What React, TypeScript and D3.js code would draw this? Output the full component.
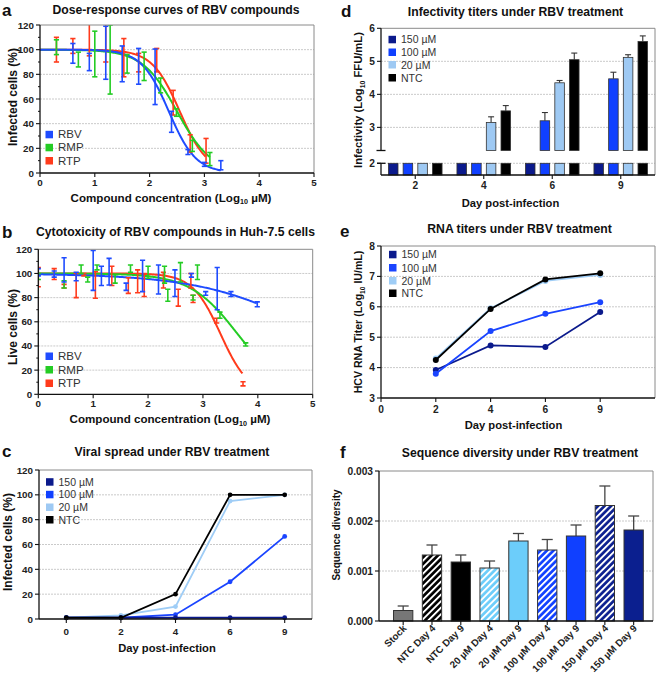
import React from 'react';
import * as d3 from 'd3';

const FONT = '"Liberation Sans", Arial, Helvetica, sans-serif';
const GRID = '#bcbcbc';
const BORDER = '#8a8a8a';

// ---------------- Panel a: dose-response ----------------
const compoundNames = ['RBV', 'RMP', 'RTP'];
const compoundColors = ['#1f4cff', '#24cc24', '#ff3b1c'];

const aRBVx = [0.6, 0.9, 1.2, 1.5, 1.8, 2.1, 2.4, 2.7, 3.0, 3.3];
const aRBVmean = [97, 90, 97.5, 88.5, 86.5, 78, 41.5, 17, 7, 6.3];
const aRBVsd = [8, 7, 21.5, 14.5, 14.5, 22.5, 8.5, 2, 1.6, 3.7];

const aRMPx = [0.3, 0.7, 1.0, 1.28, 1.59, 1.9, 2.2, 2.49, 2.78, 3.1];
const aRMPmean = [102, 92, 96.5, 92, 88.5, 86.5, 71, 49, 22, 11.3];
const aRMPsd = [6, 6, 18.5, 28, 7.5, 11.5, 6, 3, 4.5, 5.3];

const aRTPx = [0.3, 0.6, 0.9, 1.2, 1.53, 1.8, 2.13, 2.43, 2.74, 3.03];
const aRTPmean = [100, 103, 109, 106, 93.5, 89.5, 91.5, 57, 24, 18];
const aRTPsd = [10, 6, 14, 16, 15.5, 7.5, 9.5, 10, 7, 10];

const aFitLogIC50 = [2.35, 2.5, 2.55];
const aFitHill = [1.75, 1.38, 1.73];

// ---------------- Panel b: cytotoxicity ----------------
const bRBVx = [0, 0.29, 0.47, 0.69, 1.0, 1.15, 1.29, 1.6, 1.9, 2.19, 2.49, 2.79, 3.05, 3.26, 3.51, 3.99];
const bRBVmean = [101, 99.5, 103, 97.5, 102.5, 98, 101.5, 89, 98, 95, 92, 98.5, 83.5, 87.5, 83, 74.5];
const bRBVsd = [3, 2.5, 10, 3.5, 16.5, 8, 11, 3, 13, 12, 11, 1.5, 1.5, 17.5, 2, 2];

const bRMPx = [0, 0.47, 0.78, 0.9, 1.07, 1.4, 1.68, 2.0, 2.3, 2.36, 2.59, 2.82, 2.9, 3.31, 3.78];
const bRMPmean = [97.5, 91, 103.5, 95, 105, 95.5, 104, 101, 99, 82, 101, 80, 101, 65.5, 41.3];
const bRMPsd = [2.5, 3, 3.5, 2, 2, 3.5, 3, 5, 7, 5, 8, 2, 6, 2.5, 1.3];

const bRTPx = [0, 0.29, 0.47, 0.69, 0.83, 1.04, 1.34, 1.64, 1.81, 1.93, 2.28, 2.55, 2.78, 2.82, 3.25, 3.73];
const bRTPmean = [97, 99.5, 89.5, 90, 99, 90.5, 98, 90, 93.5, 90.5, 94.5, 80, 94, 79, 61, 8.7];
const bRTPsd = [8, 4.5, 1.5, 10, 1, 11, 8, 6.5, 9.5, 9.5, 6.5, 7, 6, 3, 2, 1.7];

const bFitLogCC50 = [5.13, 3.63, 3.32];
const bFitHill = [0.42, 1.0, 1.7];

// ---------------- Shared treatment groups ----------------
const treatNames = ['150 µM', '100 µM', '20 µM', 'NTC'];
const treatColors = ['#0b1a8c', '#1040ff', '#9ec9f3', '#000000'];
const treatLineColors = ['#0b1a8c', '#1a44ff', '#9fcdf6', '#000000'];

// ---------------- Panel c: viral spread ----------------
const cDays = ['0', '2', '4', '6', '9'];
const c150 = [1, 1, 1, 1, 1];
const c100 = [1, 1, 3.5, 30, 66.5];
const c20 = [1, 3, 10, 95, 100];
const cNTC = [1, 1, 20, 100, 100];

// ---------------- Panel d: infectivity ----------------
const dDays = ['2', '4', '6', '9'];
const d150 = [2, 2, 2, 2];
const d100 = [2, 2, 3.2, 4.47];
const d20 = [2, 3.15, 4.35, 5.12];
const dNTC = [2, 3.5, 5.05, 5.6];
const d150err = [0, 0, 0, 0];
const d100err = [0, 0, 0.25, 0.2];
const d20err = [0, 0.17, 0.07, 0.08];
const dNTCerr = [0, 0.16, 0.2, 0.17];
const dUpperTicks = [3, 4, 5, 6];
const dLowerTicks = [2];

// ---------------- Panel e: RNA titers ----------------
const eTickLabels = ['0', '2', '4', '6', '9'];
const eDayIndex = [1, 2, 3, 4];
const e150 = [3.92, 4.73, 4.68, 5.83];
const e100 = [3.8, 5.2, 5.77, 6.15];
const e20 = [4.3, 5.95, 6.85, 7.05];
const eNTC = [4.25, 5.93, 6.9, 7.1];

// ---------------- Panel f: sequence diversity ----------------
const fLabels = ['Stock', 'NTC Day 4', 'NTC Day 9', '20 µM Day 4', '20 µM Day 9', '100 µM Day 4', '100 µM Day 9', '150 µM Day 4', '150 µM Day 9'];
const fValues = [0.00021, 0.00132, 0.00118, 0.00106, 0.0016, 0.00142, 0.0017, 0.00231, 0.00182];
const fErr = [0.00009, 0.0002, 0.00014, 0.00014, 0.00015, 0.00021, 0.00022, 0.00039, 0.00028];
const fColors = ['#777777', '#000000', '#000000', '#6ccdfa', '#6ccdfa', '#1040ff', '#1040ff', '#0b1f8f', '#0b1f8f'];
const fHatched = [false, true, false, true, false, true, false, true, false];
const fTicks = [0, 0.001, 0.002, 0.003];

// ======================================================
type Pt = { x: number; m: number; s: number };
const zip = (xs: number[], ms: number[], ss: number[]): Pt[] => xs.map((x, i) => ({ x, m: ms[i], s: ss[i] }));

const Txt = (p: any) => <text fontFamily={FONT} {...p} />;

function Frame({ x0, x1, y0, y1 }: any) {
  return (
    <g>
      <line x1={x0} x2={x1} y1={y0} y2={y0} stroke={BORDER} strokeWidth={1} />
      <line x1={x1} x2={x1} y1={y0} y2={y1} stroke={BORDER} strokeWidth={1} />
      <line x1={x0} x2={x1} y1={y1} y2={y1} stroke="#111" strokeWidth={1.3} />
      <line x1={x0} x2={x0} y1={y0} y2={y1} stroke="#111" strokeWidth={1.3} />
    </g>
  );
}

function Grid({ y, vals, x0, x1 }: any) {
  return (
    <g>
      {vals.map((v: number) => (
        <line key={v} x1={x0} x2={x1} y1={y(v)} y2={y(v)} stroke={GRID} strokeWidth={0.8} strokeDasharray="2,1" />
      ))}
    </g>
  );
}

function YTicks({ y, vals, x, fmt, fs = 9.8, minor }: any) {
  return (
    <g>
      {vals.map((v: number) => (
        <g key={v}>
          <line x1={x - 4} x2={x} y1={y(v)} y2={y(v)} stroke="#111" strokeWidth={1.1} />
          <Txt x={x - 6} y={y(v) + fs * 0.36} fontSize={fs} fontWeight="bold" textAnchor="end" fill="#222">
            {fmt ? fmt(v) : v}
          </Txt>
        </g>
      ))}
      {(minor || []).map((v: number) => (
        <line key={'m' + v} x1={x - 2} x2={x} y1={y(v)} y2={y(v)} stroke="#111" strokeWidth={1} />
      ))}
    </g>
  );
}

function XTicks({ pos, labels, y, base, fs = 9.8, len = 4 }: any) {
  return (
    <g>
      {pos.map((p: number, i: number) => (
        <g key={i}>
          <line x1={p} x2={p} y1={y} y2={y + len} stroke="#111" strokeWidth={1.1} />
          <Txt x={p} y={base} fontSize={fs} fontWeight="bold" textAnchor="middle" fill="#222">
            {labels[i]}
          </Txt>
        </g>
      ))}
    </g>
  );
}

function Legend({ names, colors, x, bases, fs = 11, sq = 7.5 }: any) {
  return (
    <g>
      {names.map((n: string, i: number) => (
        <g key={n}>
          <rect x={x} y={bases[i] - sq} width={sq} height={sq} fill={colors[i]} />
          <Txt x={x + sq + 5} y={bases[i]} fontSize={fs} fill="#333">
            {n}
          </Txt>
        </g>
      ))}
    </g>
  );
}

function Label({ x, y, t }: any) {
  return (
    <Txt x={x} y={y} fontSize={17} fontWeight="bold" fill="#111">
      {t}
    </Txt>
  );
}

function Title({ x, y, t }: any) {
  return (
    <Txt x={x} y={y} fontSize={12.2} fontWeight="bold" textAnchor="middle" fill="#111">
      {t}
    </Txt>
  );
}

function LogLabel({ x, y, pre, post, rotate, fs = 11 }: any) {
  const tr = rotate ? `rotate(-90 ${x} ${y})` : undefined;
  return (
    <Txt x={x} y={y} fontSize={fs} fontWeight="bold" textAnchor="middle" fill="#111" transform={tr}>
      {pre}
      {post !== undefined ? (
        <>
          <tspan fontSize={fs * 0.62} dy={fs * 0.25}>10</tspan>
          <tspan dy={-fs * 0.25}>{post}</tspan>
        </>
      ) : null}
    </Txt>
  );
}

function ErrBars({ pts, x, y, color, cap = 2.6 }: any) {
  return (
    <g>
      {pts.map((p: Pt, i: number) => {
        const cx = x(p.x);
        const yt = y(p.m + p.s);
        const yb = y(p.m - p.s);
        return (
          <g key={i} stroke={color} strokeWidth={1.6}>
            <line x1={cx} x2={cx} y1={yt} y2={yb} />
            <line x1={cx - cap} x2={cx + cap} y1={yt} y2={yt} />
            <line x1={cx - cap} x2={cx + cap} y1={yb} y2={yb} />
          </g>
        );
      })}
    </g>
  );
}

function DosePanel({ id, xr, yr, series, ic50, hill, legendBases }: any) {
  const x = d3.scaleLinear().domain([0, 5]).range(xr);
  const y = d3.scaleLinear().domain([0, 120]).range(yr);
  const line = d3.line<number[]>().x((d) => x(d[0])).y((d) => y(d[1]));
  const curves = series.map((s: Pt[], k: number) => {
    const xmax = d3.max(s, (p) => p.x) as number;
    const xs = d3.range(0, xmax + 0.001, 0.02);
    return xs.map((v) => [v, 100 / (1 + Math.pow(10, (v - ic50[k]) * hill[k]))]);
  });
  return (
    <g>
      <defs>
        <clipPath id={id}>
          <rect x={xr[0]} y={yr[1]} width={xr[1] - xr[0]} height={yr[0] - yr[1]} />
        </clipPath>
      </defs>
      <Grid y={y} vals={[20, 40, 60, 80, 100]} x0={xr[0]} x1={xr[1]} />
      <g clipPath={`url(#${id})`}>
        {[2, 1, 0].map((k) => (
          <path key={k} d={line(curves[k]) as string} fill="none" stroke={compoundColors[k]} strokeWidth={2} />
        ))}
        {[2, 1, 0].map((k) => (
          <ErrBars key={k} pts={series[k]} x={x} y={y} color={compoundColors[k]} />
        ))}
      </g>
      <Frame x0={xr[0]} x1={xr[1]} y0={yr[1]} y1={yr[0]} />
      <YTicks y={y} x={xr[0]} vals={[0, 20, 40, 60, 80, 100, 120]} minor={[10, 30, 50, 70, 90, 110]} />
      <XTicks pos={[0, 1, 2, 3, 4, 5].map(x)} labels={['0', '1', '2', '3', '4', '5']} y={yr[0]} base={yr[0] + 13} />
      <Legend names={compoundNames} colors={compoundColors} x={45.5} bases={legendBases} fs={11.5} />
    </g>
  );
}

function App() {
  // ---------- Panel c ----------
  const cx = d3.scalePoint<string>().domain(cDays).range([39, 312]).padding(0.5);
  const cy = d3.scaleLinear().domain([0, 120]).range([619, 470]);
  const cSeries = [c150, c100, c20, cNTC];
  const cLine = d3.line<number>().x((_, i) => cx(cDays[i]) as number).y((d) => cy(d));

  // ---------- Panel d ----------
  const dX0 = d3.scaleBand<string>().domain(dDays).range([381, 655]).padding(0);
  const dInner = d3.scaleBand<string>().domain(treatNames).range([0, 58]).paddingInner(0.35).paddingOuter(0.15);
  const dYu = d3.scaleLinear().domain([2.3, 6]).range([150.5, 28.3]);
  const dYl = d3.scaleLinear().domain([1.645, 2]).range([175, 163.3]);
  const dSeries = [d150, d100, d20, dNTC];
  const dErrs = [d150err, d100err, d20err, dNTCerr];

  // ---------- Panel e ----------
  const ex = d3.scaleLinear().domain([0, 5]).range([381, 655]);
  const ey = d3.scaleLinear().domain([3, 8]).range([398, 246]);
  const eSeries = [e150, e100, e20, eNTC];
  const eLine = d3.line<number>().x((_, i) => ex(eDayIndex[i])).y((d) => ey(d));

  // ---------- Panel f ----------
  const fx = d3.scaleBand<string>().domain(fLabels).range([379, 653]).paddingInner(0.33).paddingOuter(0.42).align(0.6);
  const fy = d3.scaleLinear().domain([0, 0.003]).range([621, 471]);
  const patId = (c: string) => 'hatch' + c.replace('#', '');

  return (
    <svg width={660} height={678} style={{ position: 'absolute', left: 0, top: 0, background: '#fff' }}>
      <defs>
        {Array.from(new Set(fColors)).map((c) => (
          <pattern key={c} id={patId(c)} patternUnits="userSpaceOnUse" width={4.6} height={4.6} patternTransform="rotate(45)">
            <rect width={4.6} height={4.6} fill={c} />
            <rect x={0} y={0} width={1.9} height={4.6} fill="#fff" />
          </pattern>
        ))}
      </defs>
      <rect width={660} height={678} fill="#fff" />

      {/* ========== a ========== */}
      <Label x={2} y={16} t="a" />
      <Title x={176} y={13.5} t="Dose-response curves of RBV compounds" />
      <DosePanel
        id="clipA"
        xr={[40, 314]}
        yr={[173, 25]}
        series={[zip(aRBVx, aRBVmean, aRBVsd), zip(aRMPx, aRMPmean, aRMPsd), zip(aRTPx, aRTPmean, aRTPsd)]}
        ic50={aFitLogIC50}
        hill={aFitHill}
        legendBases={[138.3, 151.3, 164.5]}
      />
      <LogLabel x={171} y={201.5} pre="Compound concentration (Log" post=" µM)" fs={11.6} />
      <LogLabel x={16.5} y={97} pre="Infected cells (%)" rotate fs={12} />

      {/* ========== b ========== */}
      <Label x={2} y={238.3} t="b" />
      <Title x={175.5} y={236} t="Cytotoxicity of RBV compounds in Huh-7.5 cells" />
      <DosePanel
        id="clipB"
        xr={[38.3, 312.7]}
        yr={[394.3, 249.3]}
        series={[zip(bRBVx, bRBVmean, bRBVsd), zip(bRMPx, bRMPmean, bRMPsd), zip(bRTPx, bRTPmean, bRTPsd)]}
        ic50={bFitLogCC50}
        hill={bFitHill}
        legendBases={[360, 373.5, 387]}
      />
      <LogLabel x={170} y={423} pre="Compound concentration (Log" post=" µM)" fs={11.6} />
      <LogLabel x={16.5} y={327} pre="Live cells (%)" rotate fs={12} />

      {/* ========== c ========== */}
      <Label x={2} y={456.7} t="c" />
      <Title x={172} y={456} t="Viral spread under RBV treatment" />
      <Grid y={cy} vals={[20, 40, 60, 80, 100]} x0={39} x1={312} />
      {[2, 1, 0, 3].map((k) => (
        <g key={k}>
          <path d={cLine(cSeries[k]) as string} fill="none" stroke={treatLineColors[k]} strokeWidth={1.8} />
          {cSeries[k].map((v, i) => (
            <circle key={i} cx={cx(cDays[i]) as number} cy={cy(v)} r={2.4} fill={treatLineColors[k]} />
          ))}
        </g>
      ))}
      <Frame x0={39} x1={312} y0={470} y1={619} />
      <YTicks y={cy} x={39} vals={[0, 20, 40, 60, 80, 100, 120]} />
      <XTicks pos={cDays.map((d) => cx(d) as number)} labels={cDays} y={619} base={635} />
      <Legend names={treatNames} colors={treatColors} x={46} bases={[485.7, 498.3, 511, 523.5]} fs={10.5} />
      <LogLabel x={167} y={652} pre="Day post-infection" fs={11.2} />
      <LogLabel x={11.5} y={542} pre="Infected cells (%)" rotate fs={12} />

      {/* ========== d ========== */}
      <Label x={341} y={16.7} t="d" />
      <Title x={515.5} y={16} t="Infectivity titers under RBV treatment" />
      <Grid y={dYu} vals={[3, 4, 5]} x0={381} x1={655} />
      <Grid y={dYl} vals={[2]} x0={381} x1={655} />
      {dDays.map((day, gi) => {
        const off = (dX0(day) as number) + (dX0.bandwidth() - 58) / 2;
        return (
          <g key={day}>
            {treatNames.map((tn, k) => {
              const v = dSeries[k][gi];
              const bx = off + (dInner(tn) as number);
              const bw = dInner.bandwidth();
              const e = dErrs[k][gi];
              return (
                <g key={tn}>
                  <rect x={bx} y={dYl(2)} width={bw} height={dYl(1.645) - dYl(2)} fill={treatColors[k]} stroke="#333" strokeWidth={0.8} />
                  {v > 2 ? (
                    <>
                      {e > 0 ? (
                        <g stroke="#333" strokeWidth={1.1}>
                          <line x1={bx + bw / 2} x2={bx + bw / 2} y1={dYu(v)} y2={dYu(v + e)} />
                          <line x1={bx + bw / 2 - 3} x2={bx + bw / 2 + 3} y1={dYu(v + e)} y2={dYu(v + e)} />
                        </g>
                      ) : null}
                      <rect x={bx} y={dYu(v)} width={bw} height={dYu(2.3) - dYu(v)} fill={treatColors[k]} stroke="#333" strokeWidth={0.8} />
                    </>
                  ) : null}
                </g>
              );
            })}
          </g>
        );
      })}
      {/* frame with broken y axis */}
      <line x1={381} x2={655} y1={28.3} y2={28.3} stroke={BORDER} />
      <line x1={655} x2={655} y1={28.3} y2={175} stroke={BORDER} />
      <line x1={381} x2={655} y1={175} y2={175} stroke="#111" strokeWidth={1.3} />
      <line x1={381} x2={381} y1={28.3} y2={150.5} stroke="#111" strokeWidth={1.3} />
      <line x1={376.5} x2={385.5} y1={150.5} y2={150.5} stroke="#111" strokeWidth={1.3} />
      <line x1={381} x2={381} y1={163.3} y2={175} stroke="#111" strokeWidth={1.3} />
      <line x1={377} x2={385.5} y1={163.3} y2={163.3} stroke="#111" strokeWidth={1.3} />
      <YTicks y={dYu} x={381} vals={dUpperTicks} fs={10.2} />
      <YTicks y={dYl} x={381} vals={dLowerTicks} fs={10.2} />
      <XTicks pos={dDays.map((d) => (dX0(d) as number) + dX0.bandwidth() / 2)} labels={dDays} y={175} base={188.5} fs={10.2} />
      <Legend names={treatNames} colors={treatColors} x={388.5} bases={[43.3, 56, 68.5, 81.5]} fs={10.5} />
      <LogLabel x={510.5} y={207} pre="Day post-infection" fs={11.2} />
      <LogLabel x={362} y={100} pre="Infectivity (Log" post=" FFU/mL)" rotate fs={11.2} />

      {/* ========== e ========== */}
      <Label x={340} y={236.7} t="e" />
      <Title x={519.5} y={232.7} t="RNA titers under RBV treatment" />
      <Grid y={ey} vals={[4, 5, 6, 7]} x0={381} x1={655} />
      {[0, 1, 2, 3].map((k) => (
        <g key={k}>
          <path d={eLine(eSeries[k]) as string} fill="none" stroke={treatLineColors[k]} strokeWidth={1.8} />
          {eSeries[k].map((v, i) => (
            <circle key={i} cx={ex(eDayIndex[i])} cy={ey(v)} r={3} fill={treatLineColors[k]} />
          ))}
        </g>
      ))}
      <Frame x0={381} x1={655} y0={246} y1={398} />
      <YTicks y={ey} x={381} vals={[3, 4, 5, 6, 7, 8]} fs={10.2} />
      <XTicks pos={[0, 1, 2, 3, 4].map(ex)} labels={eTickLabels} y={398} base={413.3} fs={10.2} />
      <Legend names={treatNames} colors={treatLineColors} x={389} bases={[258.3, 271.5, 284.5, 297]} fs={10.5} />
      <LogLabel x={513.5} y={428.5} pre="Day post-infection" fs={11.2} />
      <LogLabel x={362} y={322} pre="HCV RNA Titer (Log" post=" IU/mL)" rotate fs={10.6} />

      {/* ========== f ========== */}
      <Label x={340} y={458.3} t="f" />
      <Title x={520} y={456.7} t="Sequence diversity under RBV treatment" />
      <Grid y={fy} vals={[0.001, 0.002]} x0={379} x1={653} />
      {fLabels.map((l, i) => {
        const bx = fx(l) as number;
        const bw = fx.bandwidth();
        const top = fy(fValues[i]);
        const et = fy(fValues[i] + fErr[i]);
        return (
          <g key={l}>
            <g stroke="#444" strokeWidth={1.3}>
              <line x1={bx + bw / 2} x2={bx + bw / 2} y1={top} y2={et} />
              <line x1={bx + bw / 2 - 5.5} x2={bx + bw / 2 + 5.5} y1={et} y2={et} />
            </g>
            <rect x={bx} y={top} width={bw} height={fy(0) - top} fill={fHatched[i] ? `url(#${patId(fColors[i])})` : fColors[i]} stroke="#333" strokeWidth={1} />
          </g>
        );
      })}
      <Frame x0={379} x1={653} y0={471} y1={621} />
      <YTicks y={fy} x={379} vals={fTicks} fmt={(v: number) => d3.format('.3f')(v)} fs={10.2} />
      {fLabels.map((l) => {
        const c = (fx(l) as number) + fx.bandwidth() / 2;
        return (
          <g key={l}>
            <line x1={c} x2={c} y1={621} y2={625} stroke="#111" strokeWidth={1.1} />
            <Txt x={c + 4} y={629} fontSize={9.8} fontWeight="bold" textAnchor="end" fill="#222" transform={`rotate(-45 ${c + 4} ${629})`}>
              {l}
            </Txt>
          </g>
        );
      })}
      <LogLabel x={339.5} y={535} pre="Sequence diversity" rotate fs={10} />
    </svg>
  );
}

export default App;
